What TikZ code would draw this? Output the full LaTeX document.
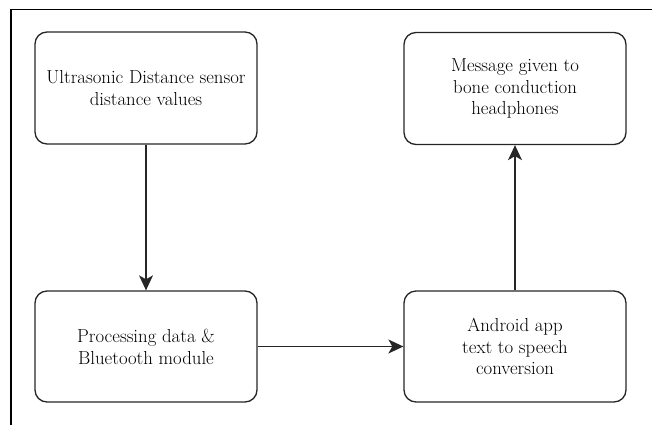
\documentclass[tikz,border=0pt]{standalone}
\usepackage{xcolor}
\definecolor{borde}{RGB}{38,38,38}
\usepackage{tikz}
\usetikzlibrary{arrows.meta}

\begin{document}
\begin{tikzpicture}[x=1pt,y=-1pt,
    caja/.style={draw=borde,line width=1.3pt,rounded corners=12pt,
      minimum width=222pt,minimum height=112pt,align=center,
      font=\rmfamily\fontsize{18.8}{21.8}\selectfont},
    flecha/.style={-{Stealth[length=15pt,width=14pt,inset=4pt]},line width=1.3pt,draw=borde}]
    \useasboundingbox (0,0) rectangle (652,425);
    % marco exterior
    \draw[line width=1.4pt] (11,425) -- (11,9.5) -- (652,9.5);
    % cajas
    \node[caja] (sensor) at (146,88) {Ultrasonic Distance sensor\\distance values};
    \node[caja] (mensaje) at (515,88.5) {Message given to\\bone conduction\\headphones};
    \node[caja,minimum height=111pt] (proceso) at (146,346.5) {Processing data \&\\Bluetooth module};
    \node[caja,minimum height=111pt] (android) at (515,346.5) {Android app\\text to speech\\conversion};
    % flechas
    \draw[flecha] (sensor) -- (proceso);
    \draw[flecha] (proceso) -- (android);
    \draw[flecha] (android) -- (mensaje);
  \end{tikzpicture}
\end{document}
